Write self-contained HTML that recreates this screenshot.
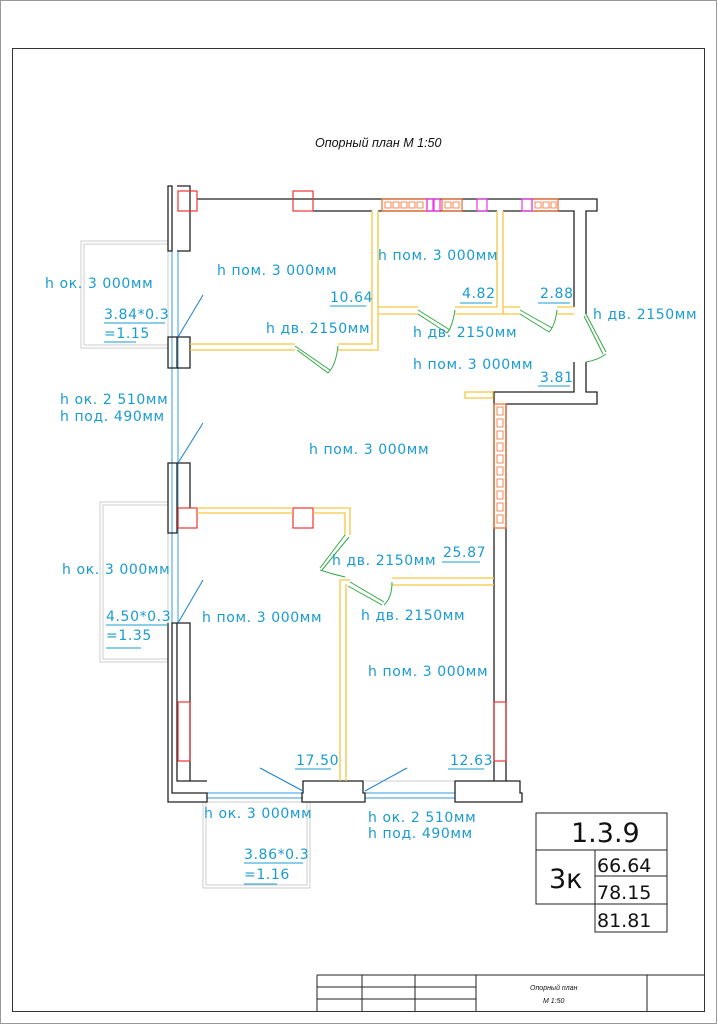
<!DOCTYPE html>
<html><head><meta charset="utf-8"><style>
html,body{margin:0;padding:0;background:#fff}
svg{display:block}
.c{fill:#1a9bd0;font-family:"DejaVu Sans","Liberation Sans",sans-serif;font-size:14px;letter-spacing:0.6px}
.k{fill:#111;font-family:"DejaVu Sans","Liberation Sans",sans-serif}
</style></head><body>
<svg width="717" height="1024" viewBox="0 0 717 1024" xmlns="http://www.w3.org/2000/svg">
<rect x="0.5" y="0.5" width="716" height="1023" fill="#fff" stroke="#999"/>
<rect x="12.5" y="48.5" width="692" height="963" fill="none" stroke="#333"/>
<text x="315" y="147" font-size="12.5" font-style="italic" font-family="Liberation Sans,sans-serif" fill="#111">Опорный план  М 1:50</text>

<g fill="none" stroke="#ccc">
<rect x="81" y="241" width="87" height="107"/><rect x="84" y="244" width="84" height="101"/>
<rect x="100" y="502" width="68" height="160"/><rect x="103" y="505" width="65" height="154"/>
<rect x="203" y="802" width="107" height="86"/><rect x="206" y="802" width="101" height="83"/>
</g>

<g stroke="#5aaee8" stroke-width="1.2">
<line x1="172" y1="251" x2="172" y2="623"/><line x1="178" y1="251" x2="178" y2="623"/>
<line x1="207" y1="793" x2="303" y2="793"/><line x1="207" y1="798" x2="303" y2="798"/>
<line x1="365" y1="793" x2="455" y2="793"/><line x1="365" y1="798" x2="455" y2="798"/>
</g>
<g stroke="#ccc"><line x1="365" y1="781" x2="455" y2="781"/></g>

<g fill="none" stroke="#222" stroke-width="1.3">
<path d="M197 199H597V211H586V314"/><path d="M313 211H372M378 211H497M503 211H574V307"/>
<path d="M586 362V392H597V404H506V781"/><path d="M574 362V392H494V781"/>
<path d="M168 186V251H172V186Z"/><path d="M177 186H190V251H177"/>
<path d="M168 337H177V368H168Z"/><path d="M177 337H190V368H177"/>
<path d="M168 463H177V533H168Z"/><path d="M177 463H190V508"/>
<path d="M168 623V802H207V793H172V623H177V781H207"/><path d="M177 623H190V781"/>
<path d="M303 793V781H363V793H365V802H302V793Z"/>
<path d="M455 793V781H520V793H522V802H455Z"/>
</g>
<g fill="none" stroke="#e33" stroke-width="1.2">
<rect x="178" y="191" width="19" height="20"/><rect x="293" y="191" width="20" height="20"/>
<rect x="178" y="508" width="19" height="20"/><rect x="293" y="508" width="20" height="20"/>
<rect x="178" y="702" width="12" height="59"/><rect x="494" y="702" width="12" height="59"/>
</g>
<g fill="none" stroke="#f06a2a" stroke-width="1.2">
<rect x="382" y="199" width="45" height="12"/><rect x="442" y="199" width="20" height="12"/><rect x="532" y="199" width="26" height="12"/>
<rect x="494" y="404" width="12" height="124"/>
</g>
<g fill="none" stroke="#f06a2a" stroke-width="0.8">
<path d="M385 202h6v6h-6zM393 202h6v6h-6zM401 202h6v6h-6zM409 202h6v6h-6zM417 202h6v6h-6zM445 202h6v6h-6zM453 202h6v6h-6zM535 202h6v6h-6zM543 202h6v6h-6zM551 202h5v6h-5z"/>
<path d="M497 407h6v8h-6zM497 419h6v8h-6zM497 431h6v8h-6zM497 443h6v8h-6zM497 455h6v8h-6zM497 467h6v8h-6zM497 479h6v8h-6zM497 491h6v8h-6zM497 503h6v8h-6zM497 515h6v8h-6z"/>
</g>
<g fill="none" stroke="#e3e" stroke-width="1.2">
<rect x="427" y="199" width="6" height="12"/><rect x="434" y="199" width="6" height="12"/><rect x="477" y="199" width="10" height="12"/><rect x="522" y="199" width="10" height="12"/>
</g>
<g fill="none" stroke="#f5c542" stroke-width="1.3">
<path d="M190 344H295M190 350H295"/><path d="M338 344H372V211M338 350H378V211"/>
<path d="M378 307H418M378 314H418M455 307H497V211M455 314H503V211M503 307H520M520 314H503"/>
<path d="M557 307H574M557 314H574"/>
<path d="M197 508H293M197 513H293M313 508H350V535M313 513H345V535"/>
<path d="M340 580V781M346 584V781M340 580H350M392 578H494M392 585H494"/>
<path d="M465 392H493V398H465Z"/>
</g>
<g fill="none" stroke="#3a4" stroke-width="1">
<path d="M295 346L330 370M297 350L328 373"/><path d="M338 346Q336 365 328 373"/>
<path d="M418 310L450 330M418 314L447 333"/><path d="M455 310Q452 328 447 333"/>
<path d="M520 310L552 328M520 314L549 332"/><path d="M557 310Q555 326 549 332"/>
<path d="M586 314L606 352M584 316L603 354"/><path d="M586 362Q598 360 606 354"/>
<path d="M345 535L320 568M349 537L322 570"/><path d="M320 570Q332 574 345 577"/>
<path d="M350 582L384 602M348 586L382 605"/><path d="M392 582Q392 598 384 605"/>
</g>
<g stroke="#1a7fd0" stroke-width="1">
<line x1="178" y1="337" x2="203" y2="295"/><line x1="178" y1="463" x2="203" y2="423"/><line x1="178" y1="623" x2="203" y2="580"/>
<line x1="260" y1="768" x2="303" y2="791"/><line x1="365" y1="791" x2="407" y2="768"/>
</g>

<g class="c">
<text x="217" y="275">h пом. 3 000мм</text>
<text x="378" y="260">h пом. 3 000мм</text>
<text x="266" y="333">h дв. 2150мм</text>
<text x="413" y="337">h дв. 2150мм</text>
<text x="593" y="319">h дв. 2150мм</text>
<text x="413" y="369">h пом. 3 000мм</text>
<text x="309" y="454">h пом. 3 000мм</text>
<text x="332" y="565">h дв. 2150мм</text>
<text x="361" y="620">h дв. 2150мм</text>
<text x="202" y="622">h пом. 3 000мм</text>
<text x="368" y="676">h пом. 3 000мм</text>
<text x="45" y="288">h ок. 3 000мм</text>
<text x="60" y="404">h ок. 2 510мм</text>
<text x="60" y="421">h под. 490мм</text>
<text x="62" y="574">h ок. 3 000мм</text>
<text x="204" y="818">h ок. 3 000мм</text>
<text x="368" y="822">h ок. 2 510мм</text>
<text x="368" y="838">h под. 490мм</text>
<text x="330" y="302">10.64</text><text x="462" y="298">4.82</text><text x="540" y="298">2.88</text>
<text x="540" y="382">3.81</text><text x="443" y="557">25.87</text>
<text x="296" y="765">17.50</text><text x="450" y="765">12.63</text>
<text x="104" y="319">3.84*0.3</text><text x="104" y="338">=1.15</text>
<text x="106" y="621">4.50*0.3</text><text x="106" y="640">=1.35</text>
<text x="244" y="859">3.86*0.3</text><text x="244" y="879">=1.16</text>
</g>
<g stroke="#1a9bd0" stroke-width="1">
<line x1="330" y1="306" x2="366" y2="306"/><line x1="460" y1="303" x2="492" y2="303"/><line x1="538" y1="303" x2="570" y2="303"/>
<line x1="538" y1="386" x2="570" y2="386"/><line x1="442" y1="562" x2="480" y2="562"/>
<line x1="295" y1="769" x2="331" y2="769"/><line x1="448" y1="769" x2="484" y2="769"/>
<line x1="104" y1="323" x2="165" y2="323"/><line x1="104" y1="342" x2="136" y2="342"/>
<line x1="106" y1="625" x2="168" y2="625"/><line x1="106" y1="648" x2="141" y2="648"/>
<line x1="244" y1="863" x2="303" y2="863"/><line x1="244" y1="884" x2="277" y2="884"/>
</g>

<g fill="none" stroke="#222" stroke-width="1">
<rect x="536" y="813" width="131" height="37"/>
<rect x="536" y="850" width="59" height="54"/>
<rect x="595" y="850" width="72" height="26"/><rect x="595" y="876" width="72" height="28"/><rect x="595" y="904" width="72" height="28"/>
</g>
<text class="k" x="571" y="842" font-size="27">1.3.9</text>
<text class="k" x="549" y="888" font-size="27">3к</text>
<text class="k" x="597" y="872" font-size="19">66.64</text>
<text class="k" x="597" y="899" font-size="19">78.15</text>
<text class="k" x="597" y="927" font-size="19">81.81</text>

<g fill="none" stroke="#222" stroke-width="1">
<path d="M317 975H704M317 975V1011M362 975V1011M415 975V1011M476 975V1011M647 975V1011M317 987H476M317 999H476"/>
</g>
<text x="530" y="990" font-size="7" font-style="italic" font-family="Liberation Sans,sans-serif" fill="#111">Опорный план</text>
<text x="543" y="1003" font-size="7" font-style="italic" font-family="Liberation Sans,sans-serif" fill="#111">М 1:50</text>
</svg>
</body></html>
